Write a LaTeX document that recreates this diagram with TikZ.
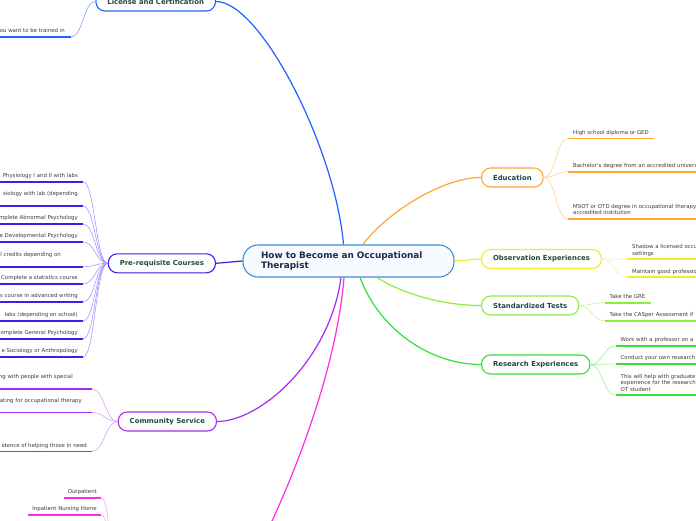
\documentclass[tikz,border=0pt]{standalone}
\usepackage{fontspec}
\setmainfont{DejaVu Sans}
\definecolor{cenb}{HTML}{3D8ED4}
\definecolor{cenf}{HTML}{F7FBFF}
\definecolor{centext}{HTML}{1B2A4E}
\definecolor{topictext}{HTML}{1E4B3C}
\definecolor{itemtext}{HTML}{3C3C3C}
\definecolor{licb}{HTML}{2060FF}
\definecolor{licl}{HTML}{80A0FF}
\definecolor{edub}{HTML}{FFA62E}
\definecolor{edul}{HTML}{FFD490}
\definecolor{obsb}{HTML}{EEEE22}
\definecolor{obsl}{HTML}{F4F49A}
\definecolor{stdb}{HTML}{8CEE3A}
\definecolor{stdl}{HTML}{C4F594}
\definecolor{resb}{HTML}{33E033}
\definecolor{resl}{HTML}{9CEE9C}
\definecolor{preb}{HTML}{3F1FE8}
\definecolor{prel}{HTML}{A898FF}
\definecolor{comb}{HTML}{A52CF0}
\definecolor{coml}{HTML}{D8A2FA}
\definecolor{magb}{HTML}{FF2BE6}
\definecolor{magl}{HTML}{FFA0F2}
\begin{document}
\begin{tikzpicture}[x=1pt, y=-1pt,
    central/.style={draw=cenb, line width=1.1pt, fill=cenf, rounded corners=15pt, text width=175pt, align=left,
      inner xsep=18pt, inner ysep=6pt, minimum height=32pt, text=centext, font=\fontsize{8.9}{10.7}\selectfont\bfseries},
    topic/.style={draw=#1, line width=1.1pt, fill=white, rounded corners=9pt, minimum height=19pt,
      inner xsep=11.5pt, inner ysep=3pt, text=topictext, font=\fontsize{6.9}{8}\selectfont\bfseries},
    itembase/.style={align=left, inner xsep=5pt, inner ysep=2.5pt, text depth=1.5pt,
      text=itemtext, font=\fontsize{5.4}{6.3}\selectfont},
    ritem/.style={itembase, anchor=south west,
      append after command={(\tikzlastnode.south west) edge[draw=#1, line width=1.8pt] (\tikzlastnode.south east)}},
    litem/.style={itembase, anchor=south east,
      append after command={([xshift=-20pt]\tikzlastnode.south west) edge[draw=#1, line width=1.8pt] (\tikzlastnode.south east)}},
    sitem/.style={itembase, anchor=south east, inner xsep=4pt,
      append after command={(\tikzlastnode.south west) edge[draw=#1, line width=1.8pt] (\tikzlastnode.south east)}},
    wide/.style={text width=200pt},
    tall/.style={text depth=7.8pt},
    taller/.style={text depth=14.1pt},
    branch/.style={draw=#1, line width=1.2pt},
    twig/.style={draw=#1, line width=0.6pt}]
  \useasboundingbox (0,0) rectangle (696,520);
  \clip (0,0) rectangle (696,520);
  \fill[white] (0,0) rectangle (696,520);

  % main topic
  \node[central] (cen) at (348.5,261) {How to Become an Occupational\\Therapist};

  % subtopics
  \node[topic=licb, anchor=east] (lic) at (216,1.5) {License and Certification};
  \node[topic=edub, anchor=west] (edu) at (481,177.5) {Education};
  \node[topic=obsb, anchor=west] (obs) at (481,259) {Observation Experiences};
  \node[topic=stdb, anchor=west] (std) at (481,305.5) {Standardized Tests};
  \node[topic=resb, anchor=west] (res) at (481,364.5) {Research Experiences};
  \node[topic=preb, anchor=east] (pre) at (216,263.3) {Pre-requisite Courses};
  \node[topic=comb, anchor=east] (com) at (217,421.5) {Community Service};
  \coordinate (setw) at (114,565);
  \coordinate (sete) at (250,565);

  % branches
  \draw[branch=licb] ([xshift=-5pt]cen.north) .. controls +(-8,-95) and +(45,0) .. (lic.east);
  \draw[branch=edub] ([xshift=14.5pt]cen.north) .. controls +(22,-30) and +(-40,0) .. (edu.west);
  \draw[branch=obsb] (cen.east) -- (obs.west);
  \draw[branch=stdb] ([xshift=28.5pt]cen.south) .. controls +(23,15) and +(-40,0) .. (std.west);
  \draw[branch=resb] ([xshift=11.5pt]cen.south) .. controls +(20,53) and +(-50,0) .. (res.west);
  \draw[branch=preb] (cen.west) -- (pre.east);
  \draw[branch=comb] ([xshift=-7.5pt]cen.south) .. controls +(-11,82) and +(44,0) .. (com.east);
  \draw[branch=magb] ([xshift=-4.5pt]cen.south) .. controls +(-10,123) and +(12,-20) .. (sete);

  % license
  \node[litem=licb, inner xsep=6pt] (lic1) at (71,37) {ou want to be trained in};
  \draw[twig=licl] (lic.west) .. controls +(-12,0) and +(12,0) .. (lic1.south east);

  % education
  \node[ritem=edub] (edu1) at (568,138.5) {High school diploma or GED};
  \node[ritem=edub, wide] (edu2) at (568,171.7) {Bachelor's degree from an accredited univers};
  \node[ritem=edub, wide, tall] (edu3) at (568,219) {MSOT or OTD degree in occupational therapy\\accredited institution};
  \draw[twig=edul] (edu.east) .. controls +(12,0) and +(-12,0) .. (edu1.south west);
  \draw[twig=edul] (edu.east) .. controls +(12,0) and +(-12,0) .. (edu2.south west);
  \draw[twig=edul] (edu.east) .. controls +(12,0) and +(-12,0) .. (edu3.south west);

  % observation
  \node[ritem=obsb, wide, tall] (obs1) at (627,259.3) {Shadow a licensed occu\\settings};
  \node[ritem=obsb, wide] (obs2) at (627,277.3) {Maintain good professio};
  \draw[twig=obsl] (obs.east) .. controls +(12,0) and +(-12,0) .. (obs1.south west);
  \draw[twig=obsl] (obs.east) .. controls +(12,0) and +(-12,0) .. (obs2.south west);

  % tests
  \node[ritem=stdb] (std1) at (604.5,302.7) {Take the GRE};
  \node[ritem=stdb, wide] (std2) at (604.5,320.7) {Take the CASper Assessment if};
  \draw[twig=stdl] (std.east) .. controls +(12,0) and +(-12,0) .. (std1.south west);
  \draw[twig=stdl] (std.east) .. controls +(12,0) and +(-12,0) .. (std2.south west);

  % research
  \node[ritem=resb, wide] (res1) at (615.5,346) {Work with a professor on a};
  \node[ritem=resb, wide] (res2) at (615.5,364) {Conduct your own research};
  \node[ritem=resb, wide, taller] (res3) at (615.5,395.3) {This will help with graduate\\experience for the research\\OT student};
  \draw[twig=resl] (res.east) .. controls +(12,0) and +(-12,0) .. (res1.south west);
  \draw[twig=resl] (res.east) .. controls +(12,0) and +(-12,0) .. (res2.south west);
  \draw[twig=resl] (res.east) .. controls +(12,0) and +(-12,0) .. (res3.south west);

  % pre-requisites
  \node[litem=preb] (pr1) at (83,181.7) {Physiology I and II with labs};
  \node[litem=preb, tall] (pr2) at (83,206) {siology with lab (depending};
  \node[litem=preb] (pr3) at (83,224) {mplete Abnormal Psychology};
  \node[litem=preb] (pr4) at (83,242) {e Developmental Psychology};
  \node[litem=preb, tall, inner xsep=22pt] (pr5) at (83,266.7) {l credits depending on};
  \node[litem=preb] (pr6) at (83,284) {Complete a statistics course};
  \node[litem=preb] (pr7) at (83,302) {s course in advanced writing};
  \node[litem=preb] (pr8) at (83,321) {labs (depending on school)};
  \node[litem=preb] (pr9) at (83,339) {omplete General Psychology};
  \node[litem=preb] (pr10) at (83,357) {e Sociology or Anthropology};
  \draw[twig=prel] (pre.west) .. controls +(-12,0) and +(12,0) .. (pr1.south east);
  \draw[twig=prel] (pre.west) .. controls +(-12,0) and +(12,0) .. (pr2.south east);
  \draw[twig=prel] (pre.west) .. controls +(-12,0) and +(12,0) .. (pr3.south east);
  \draw[twig=prel] (pre.west) .. controls +(-12,0) and +(12,0) .. (pr4.south east);
  \draw[twig=prel] (pre.west) .. controls +(-12,0) and +(12,0) .. (pr5.south east);
  \draw[twig=prel] (pre.west) .. controls +(-12,0) and +(12,0) .. (pr6.south east);
  \draw[twig=prel] (pre.west) .. controls +(-12,0) and +(12,0) .. (pr7.south east);
  \draw[twig=prel] (pre.west) .. controls +(-12,0) and +(12,0) .. (pr8.south east);
  \draw[twig=prel] (pre.west) .. controls +(-12,0) and +(12,0) .. (pr9.south east);
  \draw[twig=prel] (pre.west) .. controls +(-12,0) and +(12,0) .. (pr10.south east);

  % community
  \node[litem=comb, tall, inner xsep=19pt] (com1) at (92,389) {ng with people with special};
  \node[litem=comb, tall, inner xsep=10pt] (com2) at (92,412.5) {ating for occupational therapy};
  \node[litem=comb] (com3) at (92,451.5) {idence of helping those in need};
  \draw[twig=coml] (com.west) .. controls +(-12,0) and +(12,0) .. (com1.south east);
  \draw[twig=coml] (com.west) .. controls +(-12,0) and +(12,0) .. (com2.south east);
  \draw[twig=coml] (com.west) .. controls +(-12,0) and +(12,0) .. (com3.south east);

  % settings
  \node[sitem=magb] (set1) at (101,498) {Outpatient};
  \node[sitem=magb] (set2) at (101,515) {Inpatient Nursing Home};
  \draw[twig=magl] (set1.south east) .. controls +(10,0) and +(-6,0) .. (setw);
  \draw[twig=magl] (set2.south east) .. controls +(10,0) and +(-6,0) .. (setw);
\end{tikzpicture}
\end{document}
